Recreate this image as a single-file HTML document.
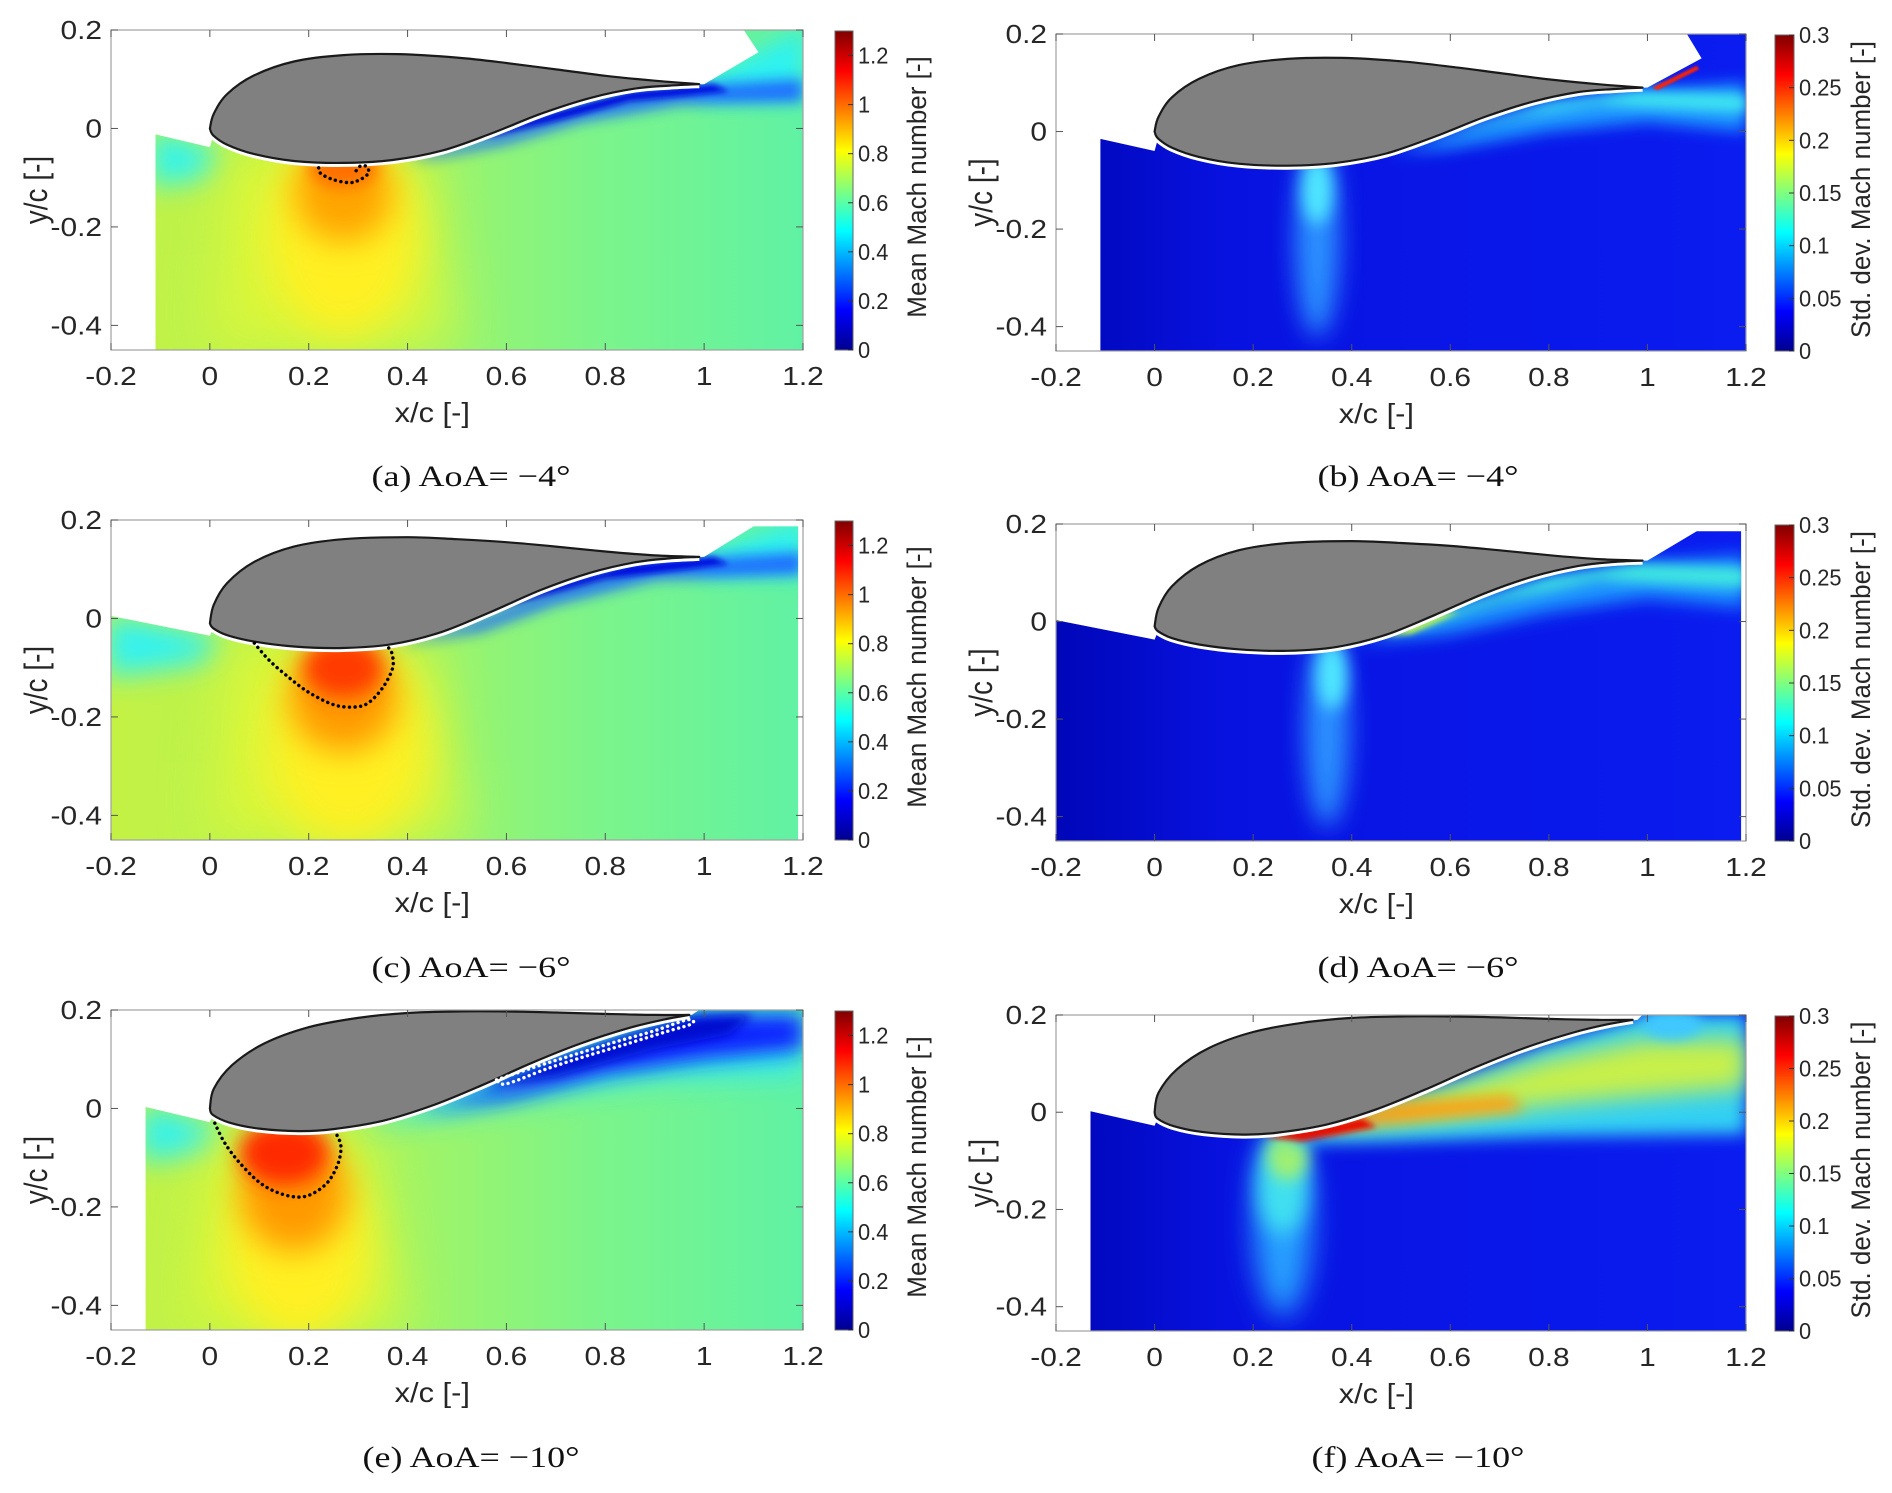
<!DOCTYPE html>
<html><head><meta charset="utf-8">
<style>
html,body{margin:0;padding:0;background:#fff;}
svg{display:block;}
text{font-family:"Liberation Sans",sans-serif;}
.cap{font-family:"Liberation Serif",serif;}
</style></head>
<body>
<svg id="fig" width="1892" height="1493" viewBox="0 0 1892 1493" xmlns="http://www.w3.org/2000/svg">
<defs>
<linearGradient id="jetV" x1="0" y1="1" x2="0" y2="0">
<stop offset="0" stop-color="#00008f"/><stop offset="0.125" stop-color="#0000ff"/>
<stop offset="0.375" stop-color="#00ffff"/><stop offset="0.625" stop-color="#ffff00"/>
<stop offset="0.875" stop-color="#ff0000"/><stop offset="1" stop-color="#800000"/>
</linearGradient>
<linearGradient id="meanBase" x1="0" y1="0" x2="1" y2="0">
<stop offset="0" stop-color="#c4f244"/><stop offset="0.35" stop-color="#aef45a"/>
<stop offset="0.7" stop-color="#7cf48a"/><stop offset="1" stop-color="#60f2a4"/>
</linearGradient>
<linearGradient id="stdBase" x1="0" y1="0" x2="1" y2="0">
<stop offset="0" stop-color="#0006b8"/><stop offset="0.25" stop-color="#0812e0"/>
<stop offset="1" stop-color="#0a1cf0"/>
</linearGradient>
</defs>
</svg>
<script>
// ---- tick data ----
const xTicks = [-0.2, 0, 0.2, 0.4, 0.6, 0.8, 1, 1.2];
const xTickLabels = ["-0.2","0","0.2","0.4","0.6","0.8","1","1.2"];
const yTicks = [0.2, 0, -0.2, -0.4];
const yTickLabels = ["0.2","0","-0.2","-0.4"];
const meanCbTicks = [0, 0.2, 0.4, 0.6, 0.8, 1, 1.2];
const meanCbLabels = ["0","0.2","0.4","0.6","0.8","1","1.2"];
const stdCbTicks = [0, 0.05, 0.1, 0.15, 0.2, 0.25, 0.3];
const stdCbLabels = ["0","0.05","0.1","0.15","0.2","0.25","0.3"];

// ---- airfoil geometry (x/c, y/c) per AoA ----
const foilA_upper = [[0,0],[0.008,0.03],[0.035,0.07],[0.09,0.108],[0.17,0.136],[0.27,0.149],[0.38,0.151],[0.5,0.144],[0.6,0.133],[0.7,0.12],[0.8,0.107],[0.9,0.097],[0.99,0.09]];
const foilA_lower = [[0.99,0.09],[0.93,0.087],[0.86,0.081],[0.77,0.062],[0.67,0.03],[0.57,-0.01],[0.47,-0.045],[0.37,-0.064],[0.27,-0.07],[0.17,-0.066],[0.09,-0.052],[0.035,-0.033],[0.007,-0.014],[0,0]];
const foilC_upper = [[0,-0.01],[0.008,0.028],[0.035,0.072],[0.09,0.115],[0.17,0.146],[0.27,0.161],[0.4,0.165],[0.5,0.161],[0.6,0.155],[0.7,0.146],[0.8,0.136],[0.9,0.128],[0.99,0.125]];
const foilC_lower = [[0.99,0.125],[0.93,0.122],[0.86,0.114],[0.77,0.093],[0.67,0.058],[0.57,0.014],[0.47,-0.027],[0.37,-0.052],[0.27,-0.06],[0.17,-0.057],[0.09,-0.047],[0.035,-0.034],[0.007,-0.02],[0,-0.01]];
const foilE_upper = [[0,0],[0.008,0.04],[0.045,0.088],[0.11,0.132],[0.2,0.165],[0.3,0.184],[0.4,0.194],[0.5,0.197],[0.6,0.197],[0.7,0.195],[0.8,0.192],[0.9,0.19],[0.97,0.19]];
const foilE_lower = [[0.97,0.19],[0.92,0.181],[0.85,0.164],[0.75,0.132],[0.65,0.092],[0.55,0.047],[0.45,0.006],[0.35,-0.025],[0.25,-0.042],[0.18,-0.046],[0.1,-0.041],[0.04,-0.029],[0.006,-0.013],[0,0]];

// ---- sonic line contours ----
const sonicA = [[0.22,-0.08],[0.225,-0.092],[0.25,-0.104],[0.28,-0.11],[0.3,-0.106],[0.32,-0.092],[0.318,-0.078],[0.305,-0.076],[0.295,-0.087]];
const sonicC = [[0.09,-0.05],[0.12,-0.085],[0.16,-0.12],[0.2,-0.15],[0.25,-0.175],[0.29,-0.18],[0.32,-0.172],[0.35,-0.14],[0.37,-0.1],[0.368,-0.07],[0.36,-0.058]];
const sonicE = [[0.01,-0.03],[0.03,-0.07],[0.06,-0.11],[0.1,-0.15],[0.14,-0.172],[0.18,-0.18],[0.21,-0.172],[0.24,-0.148],[0.26,-0.11],[0.265,-0.075],[0.255,-0.05]];
const sepE = [[0.58,0.058],[0.66,0.085],[0.74,0.11],[0.82,0.135],[0.9,0.158],[0.965,0.18],[0.975,0.172],[0.92,0.155],[0.84,0.13],[0.76,0.106],[0.68,0.08],[0.6,0.05],[0.58,0.058]];

const NS = "http://www.w3.org/2000/svg";
const svg = document.getElementById('fig');
const defs = svg.querySelector('defs');
let uid = 0;
function el(tag, attrs, parent){
  const e = document.createElementNS(NS, tag);
  for (const k in attrs) e.setAttribute(k, attrs[k]);
  (parent||svg).appendChild(e);
  return e;
}
function stext(parent, x, y, str, size, anchor, sx, cls, rot){
  const tr = rot ? 'translate('+x+','+y+') rotate(-90) scale(1,'+sx+')' : 'translate('+x+','+y+') scale('+sx+',1)';
  const t = el('text', {x:0, y:0, 'font-size':size, 'text-anchor':anchor, fill:'#262626', transform:tr}, parent);
  if (cls) { t.setAttribute('class', cls); t.setAttribute('fill', '#111'); }
  t.textContent = str;
  return t;
}

function panel(cfg){
  const g = el('g', {});
  
  
  const L=cfg.left,R=cfg.right,T=cfg.top,B=cfg.bottom;
  const X = x => L + (x+0.2)/1.4*(R-L);
  const Y = y => T + (0.2-y)/0.65*(B-T);
  const pts = arr => arr.map(p => X(p[0]).toFixed(1)+','+Y(p[1]).toFixed(1)).join(' ');
  const smooth = arr => {
    const P = arr.map(p=>[X(p[0]),Y(p[1])]);
    let d = 'M'+P[0][0].toFixed(1)+','+P[0][1].toFixed(1);
    for (let i=0;i<P.length-1;i++){
      const p0=P[Math.max(0,i-1)], p1=P[i], p2=P[i+1], p3=P[Math.min(P.length-1,i+2)];
      const c1=[p1[0]+(p2[0]-p0[0])/6, p1[1]+(p2[1]-p0[1])/6];
      const c2=[p2[0]-(p3[0]-p1[0])/6, p2[1]-(p3[1]-p1[1])/6];
      d += ' C'+c1[0].toFixed(1)+','+c1[1].toFixed(1)+' '+c2[0].toFixed(1)+','+c2[1].toFixed(1)+' '+p2[0].toFixed(1)+','+p2[1].toFixed(1);
    }
    return d;
  };
  const id = 'p'+(uid++);
  const cp = el('clipPath', {id:id+'clip'}, defs);
  el('polygon', {points: pts(cfg.field)}, cp);
  const field = el('g', {'clip-path':'url(#'+id+'clip)'}, g);
  
  
  el('rect', {x:L, y:T, width:R-L, height:B-T, fill: cfg.std ? 'url(#stdBase)' : 'url(#meanBase)'}, field);
  cfg.blobs.forEach((b,i)=>{
    const fid = id+'f'+i;
    const f = el('filter', {id:fid, x:'-50%', y:'-50%', width:'200%', height:'200%'}, defs);
    el('feGaussianBlur', {stdDeviation: b.blur}, f);
    let s;
    if (b.t==='e') s = el('ellipse', {cx:X(b.cx), cy:Y(b.cy), rx:b.rx/1.4*(R-L), ry:b.ry/0.65*(B-T), fill:b.c, filter:'url(#'+fid+')', opacity:b.o||1}, field);
    else s = el('polygon', {points: pts(b.p), fill:b.c, filter:'url(#'+fid+')', opacity:b.o||1}, field);
    
    
  });
  // airfoil
  const upperD = smooth(cfg.upper);
  const lowerD = smooth(cfg.lower).replace(/^M[^C]*/, '');
  const d = upperD + ' ' + lowerD + ' Z';
  el('path', {d:smooth(cfg.lower), fill:'none', stroke:'#fff', 'stroke-width':8, 'stroke-linejoin':'round'}, g);
  const af = el('path', {d:d, fill:'#808080', stroke:'#1a1a1a', 'stroke-width':2.2, 'stroke-linejoin':'round'}, g);
  
  
  (cfg.contours||[]).forEach(c=>{
    const pl = el('path', {d: smooth(c.p), fill:'none', stroke:c.c, 'stroke-width':3.4, 'stroke-dasharray':'0.1 5.5', 'stroke-linecap':'round'}, g);
    
    
  });
  // axes box
  el('rect', {x:L, y:T, width:R-L, height:B-T, fill:'none', stroke:'#a0a0a0', 'stroke-width':1.2}, g);
  xTicks.forEach((t,i)=>{
    const x = X(t);
    el('line', {x1:x, y1:B, x2:x, y2:B-7, stroke:'#555', 'stroke-width':1}, g);
    el('line', {x1:x, y1:T, x2:x, y2:T+7, stroke:'#555', 'stroke-width':1}, g);
    const tx = stext(g, x, B+35, xTickLabels[i], 26, 'middle', 1.15);
    
    
  });
  yTicks.forEach((t,i)=>{
    const y = Y(t);
    el('line', {x1:L, y1:y, x2:L+7, y2:y, stroke:'#555', 'stroke-width':1}, g);
    el('line', {x1:R, y1:y, x2:R-7, y2:y, stroke:'#555', 'stroke-width':1}, g);
    const tx = stext(g, L-9, y+9, yTickLabels[i], 26, 'end', 1.15);
    
    
  });
  const xl = stext(g, (X(0.4)+X(0.5))/2, B+72, 'x/c [-]', 28, 'middle', 1.1);
  
  
  const yc = (T+B)/2;
  const yl = stext(g, L-64, yc, 'y/c [-]', 28, 'middle', 1.15, null, true);
  
  
  // colorbar
  const cb = el('rect', {x:cfg.cbL, y:T+1, width:cfg.cbW, height:B-T-1, fill:'url(#jetV)', stroke:'#666', 'stroke-width':1}, g);
  
  
  const ticks = cfg.std ? stdCbTicks : meanCbTicks;
  const labs = cfg.std ? stdCbLabels : meanCbLabels;
  const vmax = cfg.std ? 0.3 : 1.3;
  const CY = v => B - v/vmax*(B-T-1);
  ticks.forEach((t,i)=>{
    const y = CY(t);
    el('line', {x1:cfg.cbL+cfg.cbW, y1:y, x2:cfg.cbL+cfg.cbW-5, y2:y, stroke:'#333', 'stroke-width':1}, g);
    const tx = stext(g, cfg.cbL+cfg.cbW+5, y+8, labs[i], 23, 'start', 0.95);
    
    
  });
  const cl = stext(g, cfg.cbLabX, yc-3, cfg.std ? 'Std. dev. Mach number [-]' : 'Mean Mach number [-]', 26, 'middle', 1.05, null, true);
  
  
  const cap = stext(g, cfg.capX, cfg.capY, cfg.caption, 30, 'middle', 1.2, 'cap');
  
  
}

const fieldA = [[-0.11,-0.012],[0,-0.038]].concat(foilA_lower.slice().reverse().slice(1,-1)).concat([[1.0,0.09],[1.11,0.155],[1.08,0.2],[1.2,0.2],[1.2,-0.45],[-0.11,-0.45]]);
const fieldC = [[-0.2,0.005],[0,-0.035]].concat(foilC_lower.slice().reverse().slice(1,-1)).concat([[1.0,0.125],[1.1,0.187],[1.19,0.187],[1.19,-0.45],[-0.2,-0.45]]);
const fieldE = [[-0.13,0.003],[0,-0.028]].concat(foilE_lower.slice().reverse().slice(1,-1)).concat([[0.975,0.19],[0.99,0.2],[1.2,0.2],[1.2,-0.45],[-0.13,-0.45]]);
const fieldB = [[-0.11,-0.015],[0,-0.04]].concat(foilA_lower.slice().reverse().slice(1,-1)).concat([[1.0,0.09],[1.11,0.15],[1.08,0.2],[1.2,0.2],[1.2,-0.45],[-0.11,-0.45]]);
const fieldD = [[-0.2,0.003],[0,-0.037]].concat(foilC_lower.slice().reverse().slice(1,-1)).concat([[1.0,0.125],[1.1,0.185],[1.19,0.185],[1.19,-0.45],[-0.2,-0.45]]);
const fieldF = [[-0.13,0.002],[0,-0.028]].concat(foilE_lower.slice().reverse().slice(1,-1)).concat([[0.98,0.19],[0.99,0.2],[1.2,0.2],[1.2,-0.45],[-0.13,-0.45]]);

const LC = {left:111, right:803, cbL:835, cbW:18, cbLabX:926};
const RC = {left:1056, right:1746, cbL:1775, cbW:19, cbLabX:1870};

// (a)
panel(Object.assign({name:'panel-a-mean-aoa-4', top:30, bottom:350, capX:471, capY:486, caption:'(a) AoA= \u22124\u00B0', std:false,
  field:fieldA, upper:foilA_upper, lower:foilA_lower,
  blobs:[
    {t:'p', p:[[-0.12,0.0],[0.02,-0.04],[0.0,-0.1],[-0.12,-0.12]], c:'#30f4f0', blur:14},
    {t:'p', p:[[0.98,0.09],[1.2,0.2],[1.2,0.06],[1.0,0.06]], c:'#2ef2f0', blur:10},
    {t:'p', p:[[0.03,-0.04],[0.45,-0.05],[0.5,-0.45],[0.0,-0.45]], c:'#e8f830', blur:26, o:0.7},
    {t:'e', cx:0.27, cy:-0.22, rx:0.15, ry:0.2, c:'#fff020', blur:20},
    {t:'e', cx:0.27, cy:-0.13, rx:0.1, ry:0.1, c:'#ffa400', blur:16},
    {t:'e', cx:0.27, cy:-0.08, rx:0.07, ry:0.04, c:'#ff7000', blur:8},
    {t:'p', p:[[0.4,-0.06],[0.6,-0.005],[0.75,0.045],[0.95,0.085],[1.2,0.1],[1.2,0.055],[0.95,0.05],[0.75,0.015],[0.6,-0.03],[0.45,-0.06]], c:'#1e6cff', blur:7},
    {t:'p', p:[[0.52,-0.02],[0.7,0.035],[0.85,0.075],[1.02,0.09],[1.05,0.075],[0.85,0.055],[0.7,0.015],[0.58,-0.015]], c:'#0010e0', blur:3}
  ], contours:[{p:sonicA, c:'#000'}]}, LC));

// (b)
panel(Object.assign({name:'panel-b-std-aoa-4', top:34, bottom:351, capX:1418, capY:486, caption:'(b) AoA= \u22124\u00B0', std:true,
  field:fieldB, upper:foilA_upper, lower:foilA_lower,
  blobs:[
    {t:'e', cx:0.33, cy:-0.22, rx:0.045, ry:0.2, c:'#2a90ff', blur:12},
    {t:'e', cx:0.33, cy:-0.12, rx:0.03, ry:0.07, c:'#50e8ff', blur:8},
    {t:'p', p:[[0.48,-0.045],[0.65,0.01],[0.8,0.055],[1.0,0.085],[1.2,0.1],[1.2,0.0],[1.0,0.02],[0.8,0.0],[0.6,-0.035]], c:'#1c98ff', blur:8},
    {t:'p', p:[[0.52,-0.03],[0.65,0.015],[0.8,0.058],[0.98,0.082],[1.2,0.075],[1.2,0.04],[0.9,0.055],[0.75,0.03],[0.6,-0.005]], c:'#40e8f0', blur:6},
    {t:'p', p:[[1.01,0.09],[1.1,0.135],[1.105,0.128],[1.02,0.085]], c:'#ff2000', blur:1}
  ]}, RC));

// (c)
panel(Object.assign({name:'panel-c-mean-aoa-6', top:520, bottom:840, capX:471, capY:977, caption:'(c) AoA= \u22126\u00B0', std:false,
  field:fieldC, upper:foilC_upper, lower:foilC_lower,
  blobs:[
    {t:'p', p:[[-0.21,0.01],[0.02,-0.035],[0.0,-0.09],[-0.21,-0.12]], c:'#30f2f2', blur:14},
    {t:'p', p:[[0.98,0.125],[1.2,0.2],[1.2,0.09],[1.0,0.09]], c:'#2ef2f0', blur:10},
    {t:'p', p:[[0.03,-0.04],[0.45,-0.05],[0.52,-0.45],[0.0,-0.45]], c:'#e8f830', blur:26, o:0.7},
    {t:'e', cx:0.28, cy:-0.26, rx:0.16, ry:0.2, c:'#fff020', blur:22},
    {t:'e', cx:0.27, cy:-0.16, rx:0.11, ry:0.11, c:'#ff9a00', blur:16},
    {t:'e', cx:0.27, cy:-0.1, rx:0.08, ry:0.06, c:'#ff3a00', blur:10},
    {t:'p', p:[[0.38,-0.055],[0.55,0.0],[0.7,0.06],[0.9,0.115],[1.2,0.135],[1.2,0.09],[0.9,0.08],[0.7,0.03],[0.55,-0.025]], c:'#1e6cff', blur:7},
    {t:'p', p:[[0.55,0.015],[0.7,0.07],[0.85,0.11],[1.02,0.125],[1.05,0.11],[0.8,0.08],[0.6,0.025]], c:'#0010e0', blur:3}
  ], contours:[{p:sonicC, c:'#000'}]}, LC));

// (d)
panel(Object.assign({name:'panel-d-std-aoa-6', top:524, bottom:841, capX:1418, capY:977, caption:'(d) AoA= \u22126\u00B0', std:true,
  field:fieldD, upper:foilC_upper, lower:foilC_lower,
  blobs:[
    {t:'e', cx:0.35, cy:-0.22, rx:0.045, ry:0.2, c:'#2a90ff', blur:12},
    {t:'e', cx:0.36, cy:-0.11, rx:0.03, ry:0.07, c:'#50e8ff', blur:8},
    {t:'p', p:[[0.4,-0.045],[0.6,0.02],[0.8,0.085],[1.0,0.12],[1.2,0.135],[1.2,0.03],[1.0,0.05],[0.8,0.02],[0.6,-0.025]], c:'#1c98ff', blur:9},
    {t:'p', p:[[0.45,-0.03],[0.6,0.025],[0.8,0.09],[0.98,0.118],[1.2,0.11],[1.2,0.07],[0.9,0.085],[0.7,0.04],[0.55,-0.01]], c:'#40e8e0', blur:6},
    {t:'p', p:[[0.47,-0.03],[0.58,0.015],[0.62,0.02],[0.52,-0.025]], c:'#c8ff40', blur:3}
  ]}, RC));

// (e)
panel(Object.assign({name:'panel-e-mean-aoa-10', top:1010, bottom:1330, capX:471, capY:1467, caption:'(e) AoA= \u221210\u00B0', std:false,
  field:fieldE, upper:foilE_upper, lower:foilE_lower,
  blobs:[
    {t:'p', p:[[-0.14,0.01],[0.02,-0.03],[0.0,-0.09],[-0.14,-0.11]], c:'#30f2f2', blur:14},
    {t:'p', p:[[0.0,-0.03],[0.32,-0.04],[0.4,-0.45],[-0.05,-0.45]], c:'#e8f830', blur:26, o:0.7},
    {t:'e', cx:0.18, cy:-0.28, rx:0.14, ry:0.19, c:'#fff020', blur:20},
    {t:'e', cx:0.17, cy:-0.17, rx:0.11, ry:0.12, c:'#ff9a00', blur:16},
    {t:'e', cx:0.15, cy:-0.09, rx:0.09, ry:0.065, c:'#ff2a00', blur:10},
    {t:'p', p:[[0.3,-0.04],[0.5,-0.01],[0.7,0.03],[0.9,0.06],[1.2,0.07],[1.2,0.2],[0.97,0.2],[0.7,0.13],[0.5,0.05]], c:'#30e8f0', blur:14},
    {t:'p', p:[[0.42,-0.005],[0.6,0.05],[0.8,0.12],[1.0,0.19],[1.2,0.19],[1.2,0.12],[1.0,0.1],[0.8,0.07],[0.6,0.02]], c:'#0a20ff', blur:10},
    {t:'p', p:[[0.55,0.04],[0.7,0.1],[0.85,0.15],[0.97,0.185],[1.1,0.19],[1.05,0.15],[0.9,0.12],[0.7,0.065]], c:'#0008d0', blur:5}
  ], contours:[{p:sonicE, c:'#000'},{p:sepE, c:'#fff'}]}, LC));

// (f)
panel(Object.assign({name:'panel-f-std-aoa-10', top:1015, bottom:1331, capX:1418, capY:1467, caption:'(f) AoA= \u221210\u00B0', std:true,
  field:fieldF, upper:foilE_upper, lower:foilE_lower,
  blobs:[
    {t:'e', cx:0.26, cy:-0.22, rx:0.06, ry:0.2, c:'#28a0ff', blur:14},
    {t:'e', cx:0.26, cy:-0.15, rx:0.05, ry:0.1, c:'#40e0f0', blur:10},
    {t:'e', cx:0.27, cy:-0.09, rx:0.04, ry:0.05, c:'#a0f070', blur:8},
    {t:'p', p:[[0.25,-0.065],[0.5,-0.06],[0.8,-0.05],[1.2,-0.045],[1.2,0.2],[1.0,0.2],[0.8,0.14],[0.6,0.06],[0.4,0.0]], c:'#30d0f4', blur:8},
    {t:'p', p:[[0.35,-0.03],[0.6,-0.01],[0.85,0.02],[1.2,0.05],[1.2,0.15],[1.0,0.15],[0.8,0.11],[0.6,0.05]], c:'#c8f048', blur:12},
    {t:'p', p:[[0.33,-0.04],[0.55,-0.015],[0.75,0.005],[0.72,0.035],[0.5,0.02],[0.36,-0.015]], c:'#ffa010', blur:7},
    {t:'p', p:[[0.22,-0.05],[0.3,-0.06],[0.45,-0.03],[0.42,-0.012],[0.3,-0.035]], c:'#e81000', blur:3},
    {t:'e', cx:1.05, cy:0.18, rx:0.06, ry:0.03, c:'#40c8ff', blur:6}
  ]}, RC));
</script>
</body></html>
